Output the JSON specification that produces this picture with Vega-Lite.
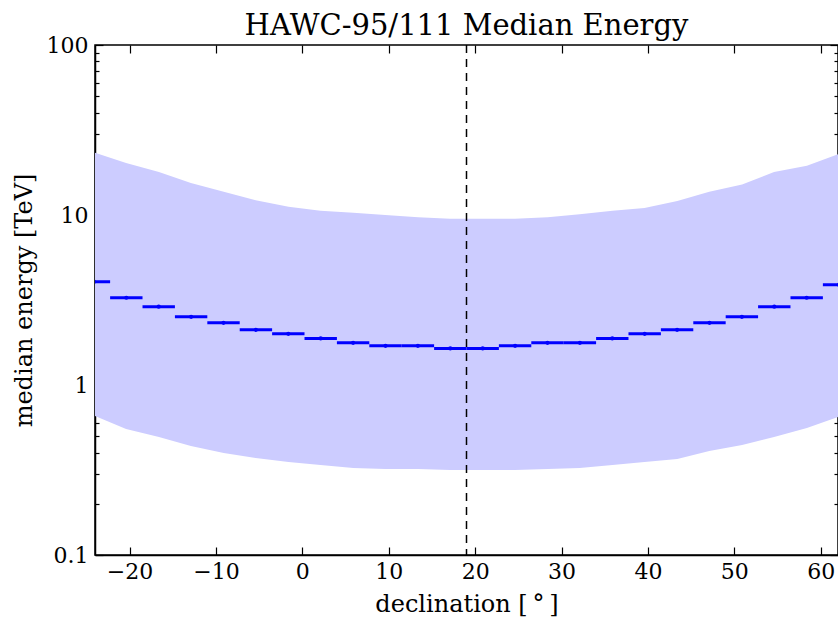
{
  "$schema": "https://vega.github.io/schema/vega-lite/v6.json",
  "width": 743,
  "height": 510,
  "autosize": {"type": "none"},
  "padding": {"left": 95, "top": 45, "right": 0, "bottom": 62},
  "background": "white",
  "config": {
    "font": "DejaVu Serif",
    "view": {"stroke": "black", "strokeWidth": 1.5},
    "axis": {
      "domainColor": "black", "domainWidth": 1.5,
      "tickColor": "black", "tickWidth": 1.2,
      "labelColor": "black", "labelFont": "DejaVu Serif", "labelFontSize": 22,
      "titleFont": "DejaVu Serif", "titleFontSize": 24, "titleFontWeight": "normal", "titleColor": "black",
      "grid": false, "labelOverlap": false, "labelBound": false, "labelFlush": false
    }
  },
  "title": {"text": "HAWC-95/111 Median Energy", "font": "DejaVu Serif", "fontSize": 29, "fontWeight": "normal", "color": "black", "anchor": "middle", "offset": 6, "dy": 13},
  "datasets": {
    "band": [
      {"dec": -24, "lo": 0.657, "hi": 23.2},
      {"dec": -20.4, "lo": 0.551, "hi": 20.2},
      {"dec": -16.6, "lo": 0.494, "hi": 17.9},
      {"dec": -12.9, "lo": 0.438, "hi": 15.4},
      {"dec": -9.1, "lo": 0.398, "hi": 13.7},
      {"dec": -5.4, "lo": 0.372, "hi": 12.2},
      {"dec": -1.6, "lo": 0.352, "hi": 11.2},
      {"dec": 2.1, "lo": 0.338, "hi": 10.6},
      {"dec": 5.9, "lo": 0.325, "hi": 10.3},
      {"dec": 9.6, "lo": 0.321, "hi": 10.0},
      {"dec": 13.4, "lo": 0.321, "hi": 9.7},
      {"dec": 17.1, "lo": 0.316, "hi": 9.5},
      {"dec": 20.9, "lo": 0.316, "hi": 9.5},
      {"dec": 24.6, "lo": 0.316, "hi": 9.5},
      {"dec": 28.4, "lo": 0.321, "hi": 9.7},
      {"dec": 32.1, "lo": 0.325, "hi": 10.1},
      {"dec": 35.9, "lo": 0.338, "hi": 10.6},
      {"dec": 39.6, "lo": 0.352, "hi": 11.0},
      {"dec": 43.4, "lo": 0.367, "hi": 12.1},
      {"dec": 47.1, "lo": 0.409, "hi": 13.7},
      {"dec": 50.9, "lo": 0.443, "hi": 15.1},
      {"dec": 54.6, "lo": 0.494, "hi": 17.9},
      {"dec": 58.4, "lo": 0.559, "hi": 19.5},
      {"dec": 62, "lo": 0.648, "hi": 22.8}
    ],
    "median": [
      {"x0": -26, "x1": -22.25, "xc": -24.125, "med": 4.05},
      {"x0": -22.25, "x1": -18.5, "xc": -20.375, "med": 3.26},
      {"x0": -18.5, "x1": -14.75, "xc": -16.625, "med": 2.89},
      {"x0": -14.75, "x1": -11, "xc": -12.875, "med": 2.52},
      {"x0": -11, "x1": -7.25, "xc": -9.125, "med": 2.32},
      {"x0": -7.25, "x1": -3.5, "xc": -5.375, "med": 2.11},
      {"x0": -3.5, "x1": 0.25, "xc": -1.625, "med": 2.0},
      {"x0": 0.25, "x1": 4, "xc": 2.125, "med": 1.88},
      {"x0": 4, "x1": 7.75, "xc": 5.875, "med": 1.77},
      {"x0": 7.75, "x1": 11.5, "xc": 9.625, "med": 1.70},
      {"x0": 11.5, "x1": 15.25, "xc": 13.375, "med": 1.70},
      {"x0": 15.25, "x1": 19, "xc": 17.125, "med": 1.64},
      {"x0": 19, "x1": 22.75, "xc": 20.875, "med": 1.64},
      {"x0": 22.75, "x1": 26.5, "xc": 24.625, "med": 1.70},
      {"x0": 26.5, "x1": 30.25, "xc": 28.375, "med": 1.77},
      {"x0": 30.25, "x1": 34, "xc": 32.125, "med": 1.77},
      {"x0": 34, "x1": 37.75, "xc": 35.875, "med": 1.88},
      {"x0": 37.75, "x1": 41.5, "xc": 39.625, "med": 2.0},
      {"x0": 41.5, "x1": 45.25, "xc": 43.375, "med": 2.11},
      {"x0": 45.25, "x1": 49, "xc": 47.125, "med": 2.32},
      {"x0": 49, "x1": 52.75, "xc": 50.875, "med": 2.52},
      {"x0": 52.75, "x1": 56.5, "xc": 54.625, "med": 2.89},
      {"x0": 56.5, "x1": 60.25, "xc": 58.375, "med": 3.26},
      {"x0": 60.25, "x1": 64, "xc": 62.125, "med": 3.89}
    ],
    "site": [{"lat": 19}]
  },
  "layer": [
    {
      "data": {"name": "band"},
      "mark": {"type": "area", "color": "#ccccff", "opacity": 1, "clip": true},
      "encoding": {
        "x": {"field": "dec", "type": "quantitative",
          "scale": {"domain": [-24, 62], "nice": false, "zero": false},
          "axis": {"orient": "bottom", "title": "declination [\u2009°\u2009]", "values": [-20, -10, 0, 10, 20, 30, 40, 50, 60], "tickSize": -8, "labelPadding": 14, "titlePadding": 10}},
        "y": {"field": "lo", "type": "quantitative",
          "scale": {"type": "log", "domain": [0.1, 100], "nice": false},
          "axis": {"orient": "left", "title": "median energy [TeV]",
            "values": [0.1, 0.2, 0.3, 0.4, 0.5, 0.6, 0.7, 0.8, 0.9, 1, 2, 3, 4, 5, 6, 7, 8, 9, 10, 20, 30, 40, 50, 60, 70, 80, 90, 100],
            "labelExpr": "indexof([0.1, 1, 10, 100], datum.value) >= 0 ? format(datum.value, '~g') : ''",
            "tickSize": {"condition": {"test": "indexof([0.1, 1, 10, 100], datum.value) >= 0", "value": -8}, "value": -4},
            "labelPadding": 15, "titlePadding": 10}},
        "y2": {"field": "hi"}
      }
    },
    {
      "data": {"name": "site"},
      "mark": {"type": "rule", "color": "black", "strokeDash": [8, 6], "strokeWidth": 1.5},
      "encoding": {"x": {"field": "lat", "type": "quantitative", "axis": null}}
    },
    {
      "data": {"name": "median"},
      "mark": {"type": "rule", "color": "#0000ff", "strokeWidth": 3, "clip": true},
      "encoding": {
        "x": {"field": "x0", "type": "quantitative",
          "axis": {"orient": "top", "title": null, "labels": false, "values": [-20, -10, 0, 10, 20, 30, 40, 50, 60], "tickSize": -8, "domain": false}},
        "x2": {"field": "x1"},
        "y": {"field": "med", "type": "quantitative",
          "axis": {"orient": "right", "title": null, "labels": false, "domain": false,
            "values": [0.1, 0.2, 0.3, 0.4, 0.5, 0.6, 0.7, 0.8, 0.9, 1, 2, 3, 4, 5, 6, 7, 8, 9, 10, 20, 30, 40, 50, 60, 70, 80, 90, 100],
            "tickSize": {"condition": {"test": "indexof([0.1, 1, 10, 100], datum.value) >= 0", "value": -8}, "value": -4}}}
      }
    },
    {
      "data": {"name": "median"},
      "mark": {"type": "circle", "color": "#0000ff", "size": 18, "opacity": 1, "clip": true},
      "encoding": {
        "x": {"field": "xc", "type": "quantitative", "axis": null},
        "y": {"field": "med", "type": "quantitative", "axis": null}
      }
    }
  ],
  "resolve": {"axis": {"x": "independent", "y": "independent"}}
}
